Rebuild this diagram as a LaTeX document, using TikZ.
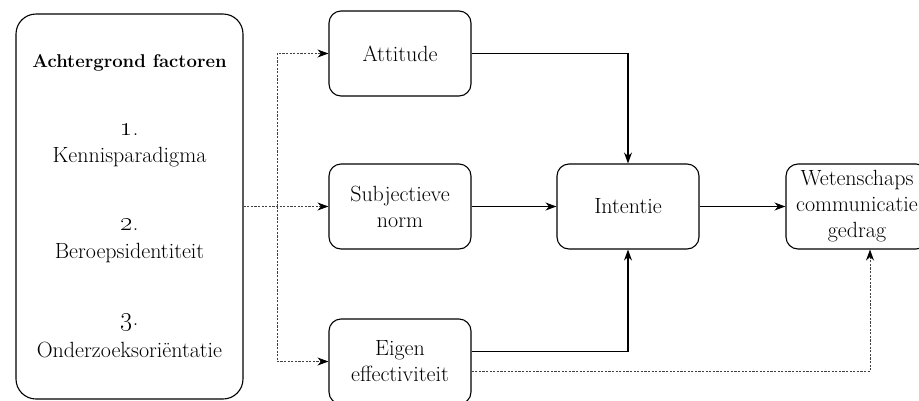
\documentclass[tikz,border=0pt]{standalone}
\usetikzlibrary{arrows.meta}
% old-style figures at the body size (the math font stops at 17pt)
\newcommand{\osnum}[1]{\scalebox{1.3}{\oldstylenums{#1}}}
\begin{document}
\begin{tikzpicture}[x=1pt,y=-1pt,
  txt/.style={font=\fontsize{22}{26}\selectfont, align=center, inner sep=0pt},
  stagebox/.style={txt, draw, line width=1.1pt, rounded corners=12pt,
    minimum width=142pt, minimum height=85pt},
  solidarrow/.style={line width=1.1pt, -{Stealth[length=11pt,width=8pt]}},
  dottedarrow/.style={line width=0.8pt, draw=black!75, dash pattern=on 2.2pt off 1.4pt,
    -{Stealth[length=11pt,width=8pt,color=black]}}]
\useasboundingbox (0,0) rectangle (919,400);

% background factors panel
\node[draw, line width=1.1pt, rounded corners=20pt, minimum width=227pt,
  minimum height=385pt] (bg) at (129.5,206.5) {};
\node[txt, font=\fontsize{18.5}{24}\selectfont\bfseries] (bgtitle) at (129.5,63) {Achtergrond factoren};
\node[txt] (n1) at (129.5,130) {\osnum{1}.};
\node[txt] (f1) at (129.5,157) {Kennisparadigma};
\node[txt] (n2) at (129.5,225) {\osnum{2}.};
\node[txt] (f2) at (129.5,253) {Beroepsidentiteit};
\node[txt] (n3) at (129.5,322) {\osnum{3}.};
\node[txt] (f3) at (129.5,350) {Onderzoeksoriëntatie};

% model stages
\node[stagebox] (att)  at (400,53.5)  {Attitude};
\node[stagebox] (subj) at (400,206.5) {Subjectieve\\norm};
\node[stagebox] (eig)  at (400,361.5) {Eigen\\effectiviteit};
\node[stagebox] (int)  at (628,206.5) {Intentie};
\node[stagebox] (wet)  at (857,206.5) {Wetenschaps\\communicatie\\gedrag};

% influence of the background factors
\coordinate (split) at (277,206.5);
\draw[dottedarrow] (bg.east) -- (subj.west);
\draw[dottedarrow] (split) |- (att.west);
\draw[dottedarrow] (split) |- (eig.west);

% main paths
\draw[solidarrow] (att.east) -| (int.north);
\draw[solidarrow] (subj.east) -- (int.west);
\draw[solidarrow] ([yshift=10pt]eig.east) -| (int.south);
\draw[solidarrow] (int.east) -- (wet.west);
\draw[dottedarrow] ([yshift=-10pt]eig.east) -| ([xshift=13pt]wet.south);
\end{tikzpicture}
\end{document}
